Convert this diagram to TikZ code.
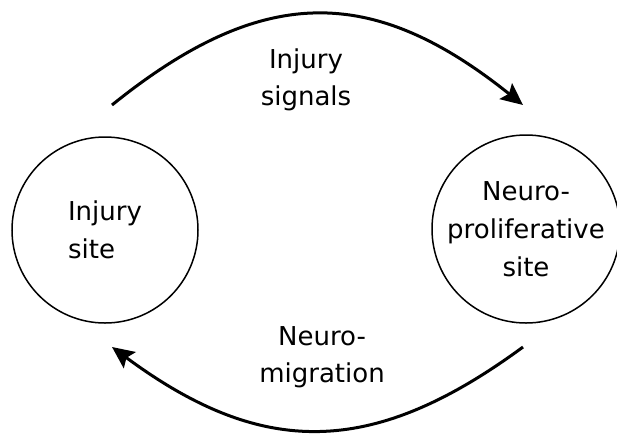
\documentclass[tikz,border=0pt]{standalone}
\usepackage{fontspec}
\setmainfont{DejaVu Sans}
\usetikzlibrary{arrows.meta}
\tikzstyle{site} = [
    circle,
    draw=black,
    line width=1.5pt,
    inner sep=0pt,
    font=\fontsize{26}{38}\selectfont
]
\tikzstyle{txt} = [
    align=center,
    font=\fontsize{26}{37}\selectfont
]
\tikzstyle{arrow} = [line width=3pt,-{Stealth[length=22pt,width=20pt,inset=4pt]}]

\begin{document}
\begin{tikzpicture}[x=1pt, y=-1pt]

\useasboundingbox (0,0) rectangle (617,434);

\node (injury) [site, minimum size=186pt, align=left] at (105,230)
{Injury\\site};

\node (prolif) [site, minimum size=188pt, align=center] at (526,229)
{Neuro-\\proliferative\\site};

\coordinate (sigstart) at (112,105);
\coordinate (sigend) at (523,105);
\coordinate (migstart) at (523,347);
\coordinate (migend) at (112,347);

\node (signals) [txt] at (306,80) {Injury\\signals};
\node (migration) [txt] at (322,357) {Neuro-\\migration};

\draw [arrow] (sigstart) .. controls (262,-16) and (372,-16) .. (sigend);
\draw [arrow] (migstart) .. controls (372,458) and (262,458) .. (migend);

\end{tikzpicture}
\end{document}
